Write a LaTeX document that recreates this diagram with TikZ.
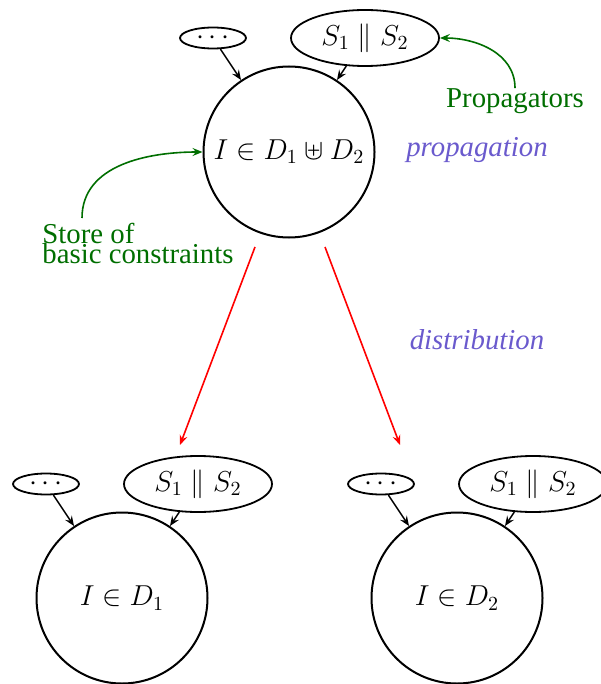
\documentclass[tikz,border=0pt]{standalone}
\usepackage[no-math]{fontspec}
\setmainfont{Liberation Serif}
\usetikzlibrary{shapes.geometric,calc,arrows.meta}
\definecolor{lblgreen}{RGB}{0,110,0}
\definecolor{lblblue}{RGB}{106,90,205}
\begin{document}
\begin{tikzpicture}[x=0.5pt,y=-0.5pt,
  >={Stealth[length=5pt,width=4pt,inset=1.8pt]},
  space/.style={circle,draw,line width=1pt,minimum size=85.5pt,inner sep=0pt,font=\Large},
  sel/.style={ellipse,draw,line width=0.9pt,minimum width=74pt,minimum height=28pt,inner sep=0pt,font=\Large},
  dotel/.style={ellipse,draw,line width=0.9pt,minimum width=33pt,minimum height=10.5pt,inner sep=0pt,font=\Large},
  link/.style={->,line width=0.75pt},
  split/.style={->,red,line width=0.8pt},
  note/.style={text=lblgreen,font=\Large,inner sep=0pt},
  noteline/.style={->,lblgreen,line width=0.8pt},
  phase/.style={text=lblblue,font=\Large\itshape,inner sep=0pt}]
\useasboundingbox (0,0) rectangle (600,684);

% top space
\node[space] (c0) at (289,152) {$I \in D_1 \uplus D_2$};
\node[dotel] (d0) at ($(c0)+(-76,-114)$) {$\cdots$};
\node[sel] (s0) at ($(c0)+(76,-114)$) {$S_1 \parallel S_2$};
\draw[link] (d0) -- (c0);
\draw[link] (s0) -- (c0);

% bottom left
\node[space] (c1) at (122,598) {$I \in D_1$};
\node[dotel] (d1) at ($(c1)+(-76,-114)$) {$\cdots$};
\node[sel] (s1) at ($(c1)+(76,-114)$) {$S_1 \parallel S_2$};
\draw[link] (d1) -- (c1);
\draw[link] (s1) -- (c1);

% bottom right
\node[space] (c2) at (457,598) {$I \in D_2$};
\node[dotel] (d2) at ($(c2)+(-76,-114)$) {$\cdots$};
\node[sel] (s2) at ($(c2)+(76,-114)$) {$S_1 \parallel S_2$};
\draw[link] (d2) -- (c2);
\draw[link] (s2) -- (c2);

% distribution arrows
\coordinate (a1) at ($(c0)+(-34,95)$);
\coordinate (b1) at (180,445);
\coordinate (a2) at ($(c0)+(36,95)$);
\coordinate (b2) at (400,445);
\draw[split] (a1) -- (b1);
\draw[split] (a2) -- (b2);

% labels
\node[note] (prop) at (515,101) {Propagators};
\draw[noteline] (prop.north) to[out=90,in=0] (s0.east);

\node[note,anchor=base west] (store1) at (42,243) {Store of};
\node[note,anchor=base west] (store2) at (42,263) {basic constraints};
\coordinate (sst) at (82,218);
\draw[noteline] (sst) to[out=90,in=180] (c0.west);

\node[phase] (pp) at (477,150) {propagation};
\node[phase] (dd) at (477,340) {distribution};
\end{tikzpicture}
\end{document}
